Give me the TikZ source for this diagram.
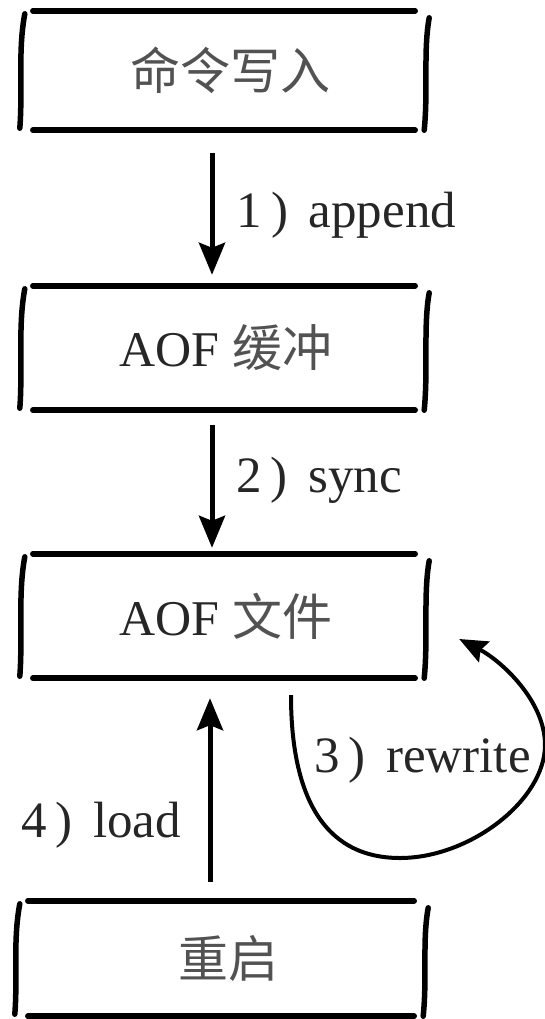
\documentclass[tikz,border=0pt]{standalone}
\usepackage{fontspec}
\setmainfont{Liberation Serif}
\newfontfamily\cjkfont{Noto Sans CJK SC}
\newcommand{\cjk}[1]{{\cjkfont\color{black!68}#1}}
\usetikzlibrary{arrows.meta,calc}
\tikzset{
  boxline/.style={line width=5.5pt, line cap=round},
  sideline/.style={line width=5.5pt, line cap=round},
  arr/.style={line width=5pt, -{Stealth[length=32pt,width=26pt,inset=5pt]}},
  arrcurve/.style={line width=4pt, -{Stealth[length=28pt,width=23pt,inset=4pt]}},
  box/.style={minimum width=382pt, inner sep=0pt, text=black!85, font=\rmfamily\fontsize{50}{56}\selectfont},
  lab/.style={anchor=base west, inner sep=0pt, text=black!85, font=\rmfamily\fontsize{51}{56}\selectfont},
}
\newcommand{\sketchbox}[1]{%
  \draw[boxline] (#1.north west) -- (#1.north east);
  \draw[boxline] (#1.south west) -- (#1.south east);
  \draw[sideline] ($(#1.north west)+(-8,3)$) .. controls ($(#1.north west)+(-15,40)$) and ($(#1.south west)+(-10,-40)$) .. ($(#1.south west)+(-13,-2)$);
  \draw[sideline] ($(#1.north east)+(14,7)$) .. controls ($(#1.north east)+(8,40)$) and ($(#1.south east)+(13,-40)$) .. ($(#1.south east)+(9,0)$);
}
\newcommand{\steplab}[2]{#1\hspace{0.18em})\hspace{0.4em}#2}
\begin{document}
\begin{tikzpicture}[x=1pt,y=-1pt]
\useasboundingbox (0,0) rectangle (545,1019);
\node[box, minimum height=119pt] (b1) at (224,70.5) {\hspace*{12pt}\cjk{命令写入}};
\node[box, minimum height=124pt] (b2) at (224,348) {\hspace*{4pt}AOF \cjk{缓冲}};
\node[box, minimum height=124pt] (b3) at (224,616) {\hspace*{4pt}AOF \cjk{文件}};
\node[box, minimum height=115pt, minimum width=386pt] (b4) at (221,958.5) {\hspace*{14pt}\cjk{重启}};
\sketchbox{b1}
\sketchbox{b2}
\sketchbox{b3}
\sketchbox{b4}
\draw[arr] ($(b1.south)+(-12,23)$) -- ($(b2.north)+(-12,-11)$);
\draw[arr] ($(b2.south)+(-12,15)$) -- ($(b3.north)+(-12,-6)$);
\draw[arr] ($(b4.north)+(-11,-19)$) -- ($(b3.south)+(-14,20)$);
\coordinate (rs) at ($(b3.south)+(67,17)$);
\coordinate (re) at ($(b3.east)+(44,23)$);
\draw[arrcurve] (rs) .. controls (291,790) and (320,858) .. (400,858)
  .. controls (470,858) and (545,800) .. (545,745)
  .. controls (545,700) and (500,660) .. (re);
\node[lab] (l1) at (236.5,227) {\steplab{1}{append}};
\node[lab] (l2) at (236,492) {\steplab{2}{sync}};
\node[lab] (l3) at (314,772) {\steplab{3}{rewrite}};
\node[lab] (l4) at (21,837) {\steplab{4}{load}};
\end{tikzpicture}
\end{document}
